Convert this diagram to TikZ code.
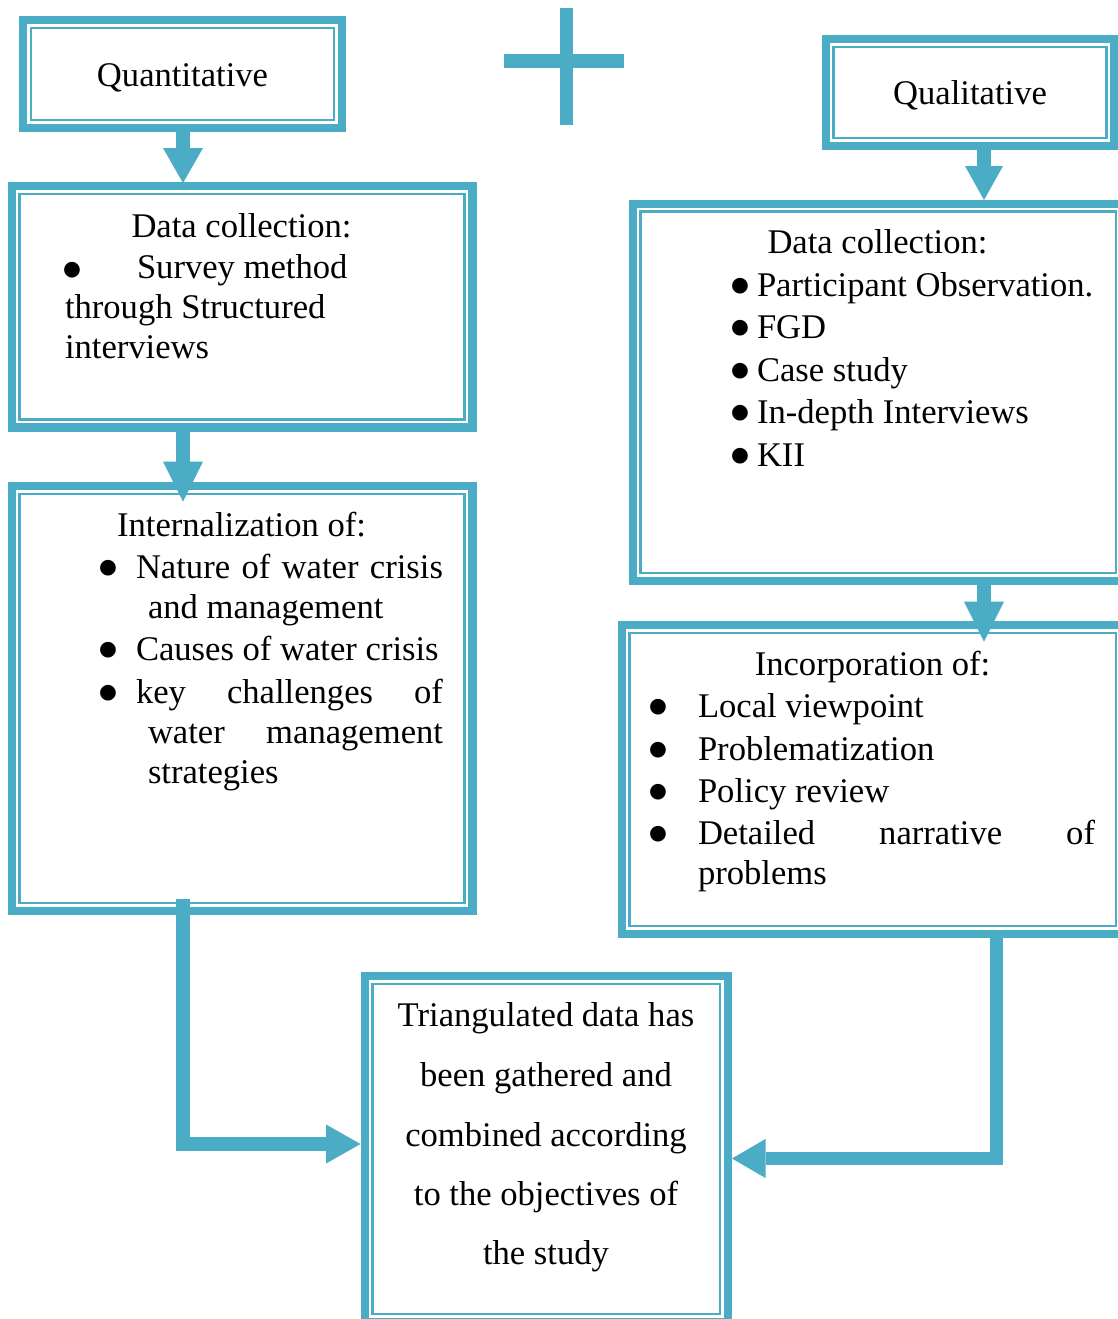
\documentclass[tikz,border=0pt]{standalone}
\usepackage{fontspec}
\setmainfont{Liberation Serif}
\newfontfamily\dejavu{DejaVu Sans}
\usetikzlibrary{arrows.meta}
\definecolor{aqua}{RGB}{75,172,198}
\newcommand{\tfont}{\fontsize{34.6}{42}\selectfont}
\newcommand{\bigbul}[1]{\raisebox{#1}{\dejavu\fontsize{20.5}{21}\selectfont ●}}
\begin{document}
\begin{tikzpicture}[x=1pt,y=-1pt,
  box/.style={draw=aqua, line width=8.4pt, inner sep=0pt, outer sep=0pt, rectangle,
    path picture={\draw[aqua, line width=2.5pt]
      ([shift={(7.8pt,-7.8pt)}]path picture bounding box.north west) rectangle
      ([shift={(-7.8pt,7.8pt)}]path picture bounding box.south east);}},
  txt/.style={inner sep=0pt, outer sep=0pt, font=\tfont},
  bul/.style={inner sep=0pt, outer sep=0pt, anchor=base west},
  conn/.style={draw=aqua, line width=13.5pt, line join=miter},
  tipv/.style={-{Triangle[width=40pt,length=#1,line width=0pt]}},
]
\fill[white] (0,0) rectangle (1118,1319);
\useasboundingbox (0,0) rectangle (1118,1319);
\clip (0,0) rectangle (1118,1319);

% boxes
\node[box, minimum width=318.6pt, minimum height=107.6pt] (b1) at (182.5,74) {};
\node[box, minimum width=460.6pt, minimum height=241.1pt] (b2) at (242,306.75) {};
\node[box, minimum width=460.6pt, minimum height=424.6pt] (b3) at (242,698.5) {};
\node[box, minimum width=288.6pt, minimum height=106.6pt] (q1) at (970,92.5) {};
\node[box, minimum width=491.1pt, minimum height=377.1pt] (q2) at (878.25,392.25) {};
\node[box, minimum width=502.1pt, minimum height=308.6pt] (q3) at (872.75,779.5) {};
\node[box, minimum width=363.1pt, minimum height=345.6pt] (tri) at (546.25,1149) {};

% plus sign
\fill[aqua] (560,8.3) rectangle (573.3,125);
\fill[aqua] (504.3,54.3) rectangle (624,67.7);

% connector lanes
\coordinate (lx) at (183,0);
\coordinate (rv) at (984,0);
\coordinate (rx) at (996.7,0);

\draw[conn, tipv=35pt, shorten >=3.2pt] (lx |- b1.south) -- (lx |- b2.north);
\draw[conn, tipv=40pt, shorten >=-15.5pt] (lx |- b2.south) -- (lx |- b3.north);
\draw[conn, -{Triangle[width=38pt,length=34pt,line width=0pt]}, shorten >=3.7pt] (rv |- q1.south) -- (rv |- q2.north);
\draw[conn, tipv=40pt, shorten >=-16.5pt] (rv |- q2.south) -- (rv |- q3.north);
\draw[conn, -{Triangle[width=39pt,length=34.4pt,line width=0pt]}, shorten <=-11.8pt, shorten >=4.2pt]
  (lx |- b3.south) |- ([yshift=5pt]tri.west);
\draw[conn, -{Triangle[width=39.3pt,length=33.7pt,line width=0pt]}, shorten >=4.2pt]
  (rx |- q3.south) |- ([yshift=-9.5pt]tri.east);

% texts
\node[txt, anchor=base] (t1) at (182.5,87) {Quantitative};
\node[txt, anchor=base] (t2) at (970,105) {Qualitative};

\node[txt, anchor=base] (t3) at (241.5,237) {Data collection:};
\node[bul] (t4) at (63,278) {\bigbul{2.2pt}};
\node[txt, anchor=base west] (t5) at (137,278) {Survey method};
\node[txt, anchor=base west] (t6) at (65,318) {through Structured};
\node[txt, anchor=base west] (t7) at (65,358) {interviews};

\node[txt, anchor=base] (t8) at (241.5,536) {Internalization of:};
\node[bul] (t9) at (99,578) {\bigbul{4.2pt}};
\node[txt, anchor=base west] (t10) at (136,578) {\makebox[307pt][s]{Nature of water crisis}};
\node[txt, anchor=base west] (t11) at (148,618) {and management};
\node[bul] (t12) at (99,660) {\bigbul{4.2pt}};
\node[txt, anchor=base west] (t13) at (136,660) {Causes of water crisis};
\node[bul] (t14) at (99,703) {\bigbul{4.2pt}};
\node[txt, anchor=base west] (t15) at (136,703) {\makebox[307pt][s]{key challenges of}};
\node[txt, anchor=base west] (t16) at (148,743) {\makebox[295pt][s]{water management}};
\node[txt, anchor=base west] (t17) at (148,783) {strategies};

\node[txt, anchor=base] (t18) at (877.5,253) {Data collection:};
\node[bul] (t19) at (731,296) {\bigbul{4.2pt}};
\node[txt, anchor=base west] (t20) at (757,296) {Participant Observation.};
\node[bul] (t21) at (731,338) {\bigbul{4.2pt}};
\node[txt, anchor=base west] (t22) at (757,338) {FGD};
\node[bul] (t23) at (731,381) {\bigbul{4.2pt}};
\node[txt, anchor=base west] (t24) at (757,381) {Case study};
\node[bul] (t25) at (731,423) {\bigbul{4.2pt}};
\node[txt, anchor=base west] (t26) at (757,423) {In-depth Interviews};
\node[bul] (t27) at (731,466) {\bigbul{4.2pt}};
\node[txt, anchor=base west] (t28) at (757,466) {KII};

\node[txt, anchor=base] (t29) at (872.5,675) {Incorporation of:};
\node[bul] (t30) at (649,717) {\bigbul{4.2pt}};
\node[txt, anchor=base west] (t31) at (698,717) {Local viewpoint};
\node[bul] (t32) at (649,760) {\bigbul{4.2pt}};
\node[txt, anchor=base west] (t33) at (698,760) {Problematization};
\node[bul] (t34) at (649,802) {\bigbul{4.2pt}};
\node[txt, anchor=base west] (t35) at (698,802) {Policy review};
\node[bul] (t36) at (649,844) {\bigbul{4.2pt}};
\node[txt, anchor=base west] (t37) at (698,844) {\makebox[397pt][s]{Detailed narrative of}};
\node[txt, anchor=base west] (t38) at (698,884) {problems};

\node[txt, anchor=base] (t39) at (546,1026) {Triangulated data has};
\node[txt, anchor=base] (t40) at (546,1086) {been gathered and};
\node[txt, anchor=base] (t41) at (546,1146) {combined according};
\node[txt, anchor=base] (t42) at (546,1205) {to the objectives of};
\node[txt, anchor=base] (t43) at (546,1264) {the study};
\end{tikzpicture}
\end{document}
